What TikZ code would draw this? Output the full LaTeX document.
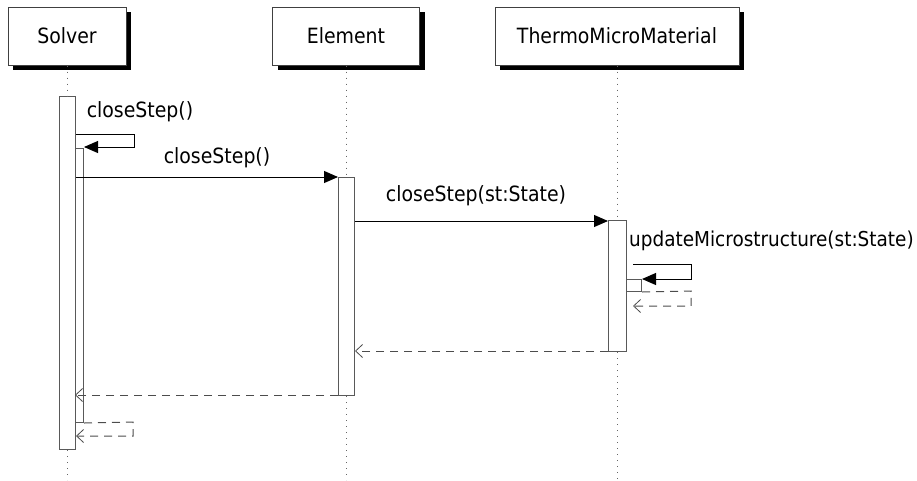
\documentclass[tikz,border=0pt]{standalone}
\usepackage{fontspec}
\setmainfont{DejaVu Sans Condensed}
\usetikzlibrary{arrows.meta,shadows}

\begin{document}
\begin{tikzpicture}[x=1pt,y=-1pt,
  txt/.style={font=\fontsize{21}{25}\selectfont, inner sep=0pt},
  objbox/.style={txt, draw=black!75, line width=1pt, fill=white, minimum height=58pt,
    drop shadow={shadow xshift=5pt, shadow yshift=-5pt, fill=black, opacity=1}},
  actbox/.style={draw=black!65, line width=1pt, fill=white, inner sep=0pt, anchor=north west},
  lifeline/.style={draw=black!60, line width=1pt, dash pattern=on 1pt off 5pt},
  callmsg/.style={draw=black, line width=1pt, -{Triangle[length=14pt,width=12pt]}},
  retmsg/.style={draw=black!70, line width=1pt, dash pattern=on 8pt off 6pt,
    -{Straight Barb[length=7pt,width=13pt,line width=0.8pt]}}
]
\useasboundingbox (0,0) rectangle (917,480);

% participants
\node[objbox, minimum width=118pt] (solver) at (67,36) {Solver};
\node[objbox, minimum width=147pt] (element) at (346,36) {Element};
\node[objbox, minimum width=244pt] (tmm) at (617,36) {ThermoMicroMaterial};

% lifelines
\coordinate (solverEnd) at (67,480);
\coordinate (elementEnd) at (346,480);
\coordinate (tmmEnd) at (617,480);

% activations
\node[actbox, minimum width=16pt, minimum height=353pt] (sa) at (59,96) {};
\node[actbox, minimum width=8pt, minimum height=274pt] (sn) at (75,148) {};
\node[actbox, minimum width=16pt, minimum height=218pt] (ea) at (338,177) {};
\node[actbox, minimum width=18pt, minimum height=131pt] (ta) at (608,220) {};
\node[actbox, minimum width=15pt, minimum height=12pt] (tn) at (626,279) {};

\draw[lifeline] (solver.south) -- (sa.north -| solver.south);
\draw[lifeline] (sa.south -| solver.south) -- (solverEnd);
\draw[lifeline] (element.south) -- (ea.north -| element.south);
\draw[lifeline] (ea.south -| element.south) -- (elementEnd);
\draw[lifeline] (tmm.south) -- (ta.north -| tmm.south);
\draw[lifeline] (ta.south -| tmm.south) -- (tmmEnd);

% Solver calls itself
\draw[callmsg] (sa.east |- 0,134) -- (134,134) -- (134,147) -- (sn.east |- 0,147);
\node[txt] (l1) at (140,112) {closeStep()};

% Solver -> Element
\draw[callmsg] (sa.east |- 0,177) -- (ea.west |- 0,177);
\node[txt] (l2) at (217,158) {closeStep()};

% Element -> ThermoMicroMaterial
\draw[callmsg] (ea.east |- 0,221) -- (ta.west |- 0,221);
\node[txt] (l3) at (476,196) {closeStep(st:State)};

% ThermoMicroMaterial calls itself
\draw[callmsg] (633,264) -- (691,264) -- (691,279) -- (tn.east |- 0,279);
\node[txt, font=\fontsize{20.5}{25}\selectfont, anchor=west] (l4) at (629,241) {updateMicrostructure(st:State)};
\draw[retmsg] (tn.south east) -- (691,291) -- (691,306) -- (633,306);

% returns
\draw[retmsg] (ta.west |- 0,351) -- (ea.east |- 0,351);
\draw[retmsg] (ea.west |- 0,395) -- (sn.west |- 0,395);
\draw[retmsg] (sn.south east) -- (133,422) -- (133,436) -- (sa.east |- 0,436);
\end{tikzpicture}
\end{document}
